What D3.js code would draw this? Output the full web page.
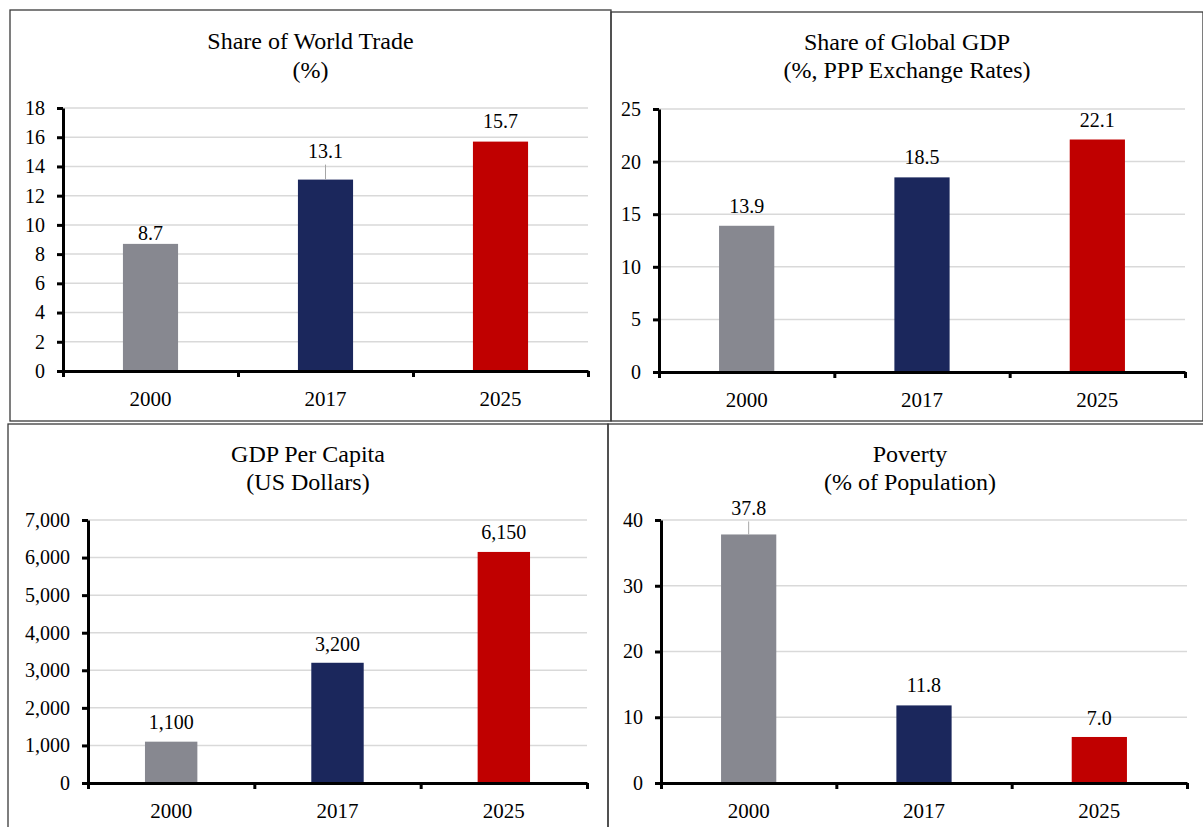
<!DOCTYPE html>
<html>
<head>
<meta charset="utf-8">
<script src="https://cdn.jsdelivr.net/npm/d3@7"></script>
<style>
  html, body { margin: 0; padding: 0; background: #fff; }
  svg { display: block; }
  text { font-family: "Liberation Serif", "DejaVu Serif", serif; fill: #000; }
</style>
</head>
<body>
<svg id="chart" width="1203" height="827"></svg>
<script>
// ---- Data ----
const categories = ["2000", "2017", "2025"];
const tradeValues = [8.7, 13.1, 15.7];
const gdpShareValues = [13.9, 18.5, 22.1];
const gdpPerCapitaValues = [1100, 3200, 6150];
const povertyValues = [37.8, 11.8, 7.0];

const tradeTicks = [0, 2, 4, 6, 8, 10, 12, 14, 16, 18];
const gdpShareTicks = [0, 5, 10, 15, 20, 25];
const gdpPerCapitaTicks = [0, 1000, 2000, 3000, 4000, 5000, 6000, 7000];
const povertyTicks = [0, 10, 20, 30, 40];

const tradeTitle = ["Share of World Trade", "(%)"];
const gdpShareTitle = ["Share of Global GDP", "(%, PPP Exchange Rates)"];
const gdpPerCapitaTitle = ["GDP Per Capita", "(US Dollars)"];
const povertyTitle = ["Poverty", "(% of Population)"];

const barColors = ["#878890", "#1b275c", "#c00000"];

// ---- Layout / style config ----
const panels = [
  { box: [10, 10, 611, 421], plot: { x0: 63, x1: 588, top: 108, bottom: 371 },
    values: tradeValues, ticks: tradeTicks, title: tradeTitle, fmt: d3.format(".1f"), tickFmt: d3.format("d"),
    lift: [10, 28, 20], leader: [false, true, false], titleY: [49, 78] },
  { box: [611, 12, 1203, 421], plot: { x0: 659, x1: 1185, top: 109, bottom: 372 },
    values: gdpShareValues, ticks: gdpShareTicks, title: gdpShareTitle, fmt: d3.format(".1f"), tickFmt: d3.format("d"),
    lift: [19, 20, 19], leader: [false, false, false], titleY: [50, 78] },
  { box: [8, 424, 608, 840], plot: { x0: 88, x1: 587, top: 520, bottom: 783 },
    values: gdpPerCapitaValues, ticks: gdpPerCapitaTicks, title: gdpPerCapitaTitle, fmt: d3.format(",.0f"), tickFmt: d3.format(",.0f"),
    lift: [19, 18, 19], leader: [false, false, false], titleY: [462, 490] },
  { box: [608, 424, 1212, 840], plot: { x0: 661, x1: 1187, top: 520, bottom: 783 },
    values: povertyValues, ticks: povertyTicks, title: povertyTitle, fmt: d3.format(".1f"), tickFmt: d3.format("d"),
    lift: [26, 20, 18], leader: [true, false, false], titleY: [462, 490] }
];

const svg = d3.select("#chart");

panels.forEach(p => {
  const g = svg.append("g");
  const [bx0, by0, bx1, by1] = p.box;

  // panel border
  g.append("rect")
    .attr("x", bx0).attr("y", by0)
    .attr("width", bx1 - bx0).attr("height", by1 - by0)
    .attr("fill", "none").attr("stroke", "#3a3a3a").attr("stroke-width", 1.3);

  // title
  const cx = (bx0 + bx1) / 2;
  p.title.forEach((t, i) => {
    g.append("text").attr("x", cx).attr("y", p.titleY[i])
      .attr("text-anchor", "middle").attr("font-size", 24).text(t);
  });

  const { x0, x1, top, bottom } = p.plot;
  const y = d3.scaleLinear().domain([0, d3.max(p.ticks)]).range([bottom, top]);
  const x = d3.scaleBand().domain(categories).range([x0, x1]).paddingInner(0.685).paddingOuter(0.3425);
  const xb = d3.scaleLinear().domain([0, categories.length]).range([x0, x1]);

  // gridlines
  g.append("g").selectAll("line").data(p.ticks.filter(t => t > 0)).join("line")
    .attr("x1", x0).attr("x2", x1)
    .attr("y1", d => y(d)).attr("y2", d => y(d))
    .attr("stroke", "#d9d9d9").attr("stroke-width", 1.5);

  // bars
  g.append("g").selectAll("rect").data(p.values).join("rect")
    .attr("x", (d, i) => x(categories[i]))
    .attr("width", x.bandwidth())
    .attr("y", d => y(d))
    .attr("height", d => y(0) - y(d))
    .attr("fill", (d, i) => barColors[i]);

  // leader lines
  g.append("g").selectAll("line").data(p.values.map((v, i) => ({ v, i })).filter(d => p.leader[d.i])).join("line")
    .attr("x1", d => x(categories[d.i]) + x.bandwidth() / 2)
    .attr("x2", d => x(categories[d.i]) + x.bandwidth() / 2)
    .attr("y1", d => y(d.v) - p.lift[d.i] + 13)
    .attr("y2", d => y(d.v))
    .attr("stroke", "#a6a6a6").attr("stroke-width", 1);

  // value labels
  g.append("g").selectAll("text").data(p.values).join("text")
    .attr("x", (d, i) => x(categories[i]) + x.bandwidth() / 2)
    .attr("y", (d, i) => y(d) - p.lift[i] + 6.5)
    .attr("text-anchor", "middle").attr("font-size", 20)
    .text(d => p.fmt(d));

  // y axis
  const yAxis = g.append("g").attr("transform", `translate(${x0},0)`)
    .call(d3.axisLeft(y).tickValues(p.ticks).tickFormat(p.tickFmt).tickSize(6).tickSizeOuter(0).tickPadding(12));
  yAxis.select(".domain").attr("stroke", "#000").attr("stroke-width", 3);
  yAxis.selectAll(".tick line").attr("stroke", "#000").attr("stroke-width", 3);
  yAxis.selectAll(".tick text").attr("font-size", 20).attr("font-family", "Liberation Serif").attr("fill", "#000");

  // x axis (boundary ticks)
  const xAxis = g.append("g").attr("transform", `translate(0,${bottom})`)
    .call(d3.axisBottom(xb).tickValues(d3.range(categories.length + 1)).tickFormat("").tickSize(6).tickSizeOuter(0));
  xAxis.select(".domain").attr("stroke", "#000").attr("stroke-width", 3);
  xAxis.selectAll(".tick line").attr("stroke", "#000").attr("stroke-width", 3);

  // category labels
  const xLab = g.append("g").attr("transform", `translate(0,${bottom})`)
    .call(d3.axisBottom(x).tickSize(0).tickPadding(20));
  xLab.select(".domain").remove();
  xLab.selectAll(".tick text").attr("font-size", 21).attr("font-family", "Liberation Serif").attr("fill", "#000")
    .attr("dy", "0.71em");
});
</script>
</body>
</html>
